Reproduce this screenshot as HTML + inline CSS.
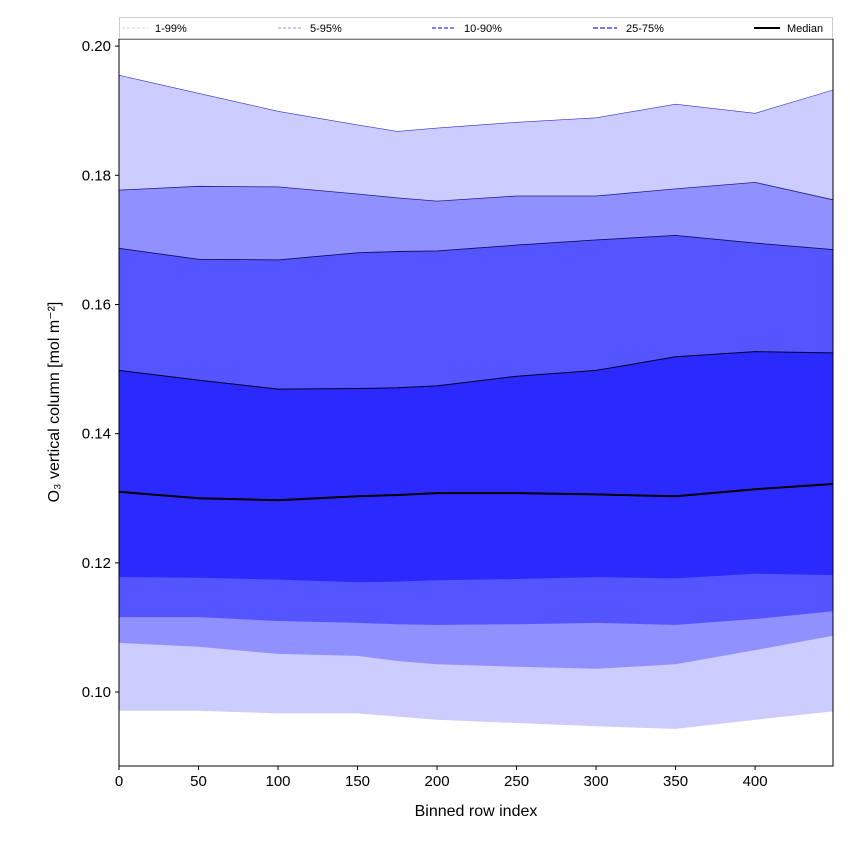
<!DOCTYPE html>
<html><head><meta charset="utf-8"><style>
body{margin:0;background:#fff;font-family:"Liberation Sans",sans-serif}
svg text{font-family:"Liberation Sans","DejaVu Sans",sans-serif}
</style></head><body>
<svg id="c" width="850" height="850" xmlns="http://www.w3.org/2000/svg">
<rect width="850" height="850" fill="#fff"/>
<g id="bands"></g>
<g id="axes"></g>
</svg>
<script>
const xIdx=[0,50,100,150,175,200,250,300,350,400,449];
const p99=[0.1955,0.1927,0.1899,0.1878,0.1868,0.1873,0.1882,0.1889,0.1910,0.1896,0.1932];
const p95=[0.1777,0.1783,0.1782,0.1771,0.1765,0.1760,0.1768,0.1768,0.1779,0.1789,0.1762];
const p90=[0.1687,0.1670,0.1669,0.1680,0.1682,0.1683,0.1692,0.1700,0.1707,0.1695,0.1685];
const p75=[0.1498,0.1483,0.1469,0.1470,0.1471,0.1474,0.1489,0.1498,0.1519,0.1527,0.1525];
const med=[0.1310,0.1300,0.1297,0.1303,0.1305,0.1308,0.1308,0.1306,0.1303,0.1314,0.1322];
const p25=[0.1178,0.1177,0.1174,0.1170,0.1171,0.1173,0.1175,0.1178,0.1176,0.1183,0.1181];
const p10=[0.1116,0.1116,0.1110,0.1107,0.1105,0.1104,0.1105,0.1107,0.1104,0.1113,0.1125];
const p5=[0.1076,0.1070,0.1059,0.1056,0.1048,0.1043,0.1039,0.1036,0.1043,0.1065,0.1087];
const p1=[0.0971,0.0971,0.0967,0.0967,0.0962,0.0957,0.0952,0.0947,0.0943,0.0957,0.0970];
const xTicks=[0,50,100,150,200,250,300,350,400];
const yTicks=[0.10,0.12,0.14,0.16,0.18,0.20];
const L=119,R=833,T=39,B=766,x0=0,x1=449,y0=0.08855,y1=0.2011;
const X=v=>L+(v-x0)/(x1-x0)*(R-L);
const Y=v=>B-(v-y0)/(y1-y0)*(B-T);
const NS="http://www.w3.org/2000/svg";
function mk(tag,at,parent){const e=document.createElementNS(NS,tag);for(const k in at)e.setAttribute(k,at[k]);parent.appendChild(e);return e;}
const bands=document.getElementById('bands'),axes=document.getElementById('axes');
function line(a){return a.map((v,i)=>X(xIdx[i]).toFixed(1)+','+Y(v).toFixed(1)).join(' ');}
function band(lo,hi,col,name){
  const pts=line(hi)+' '+lo.map((v,i)=>[X(xIdx[i]),Y(v)]).reverse().map(p=>p[0].toFixed(1)+','+p[1].toFixed(1)).join(' ');
  const p=mk('polygon',{points:pts,fill:col},bands);
  
  
}
band(p1,p99,'#ccccff','band-1-99');
band(p5,p95,'#9090ff','band-5-95');
band(p10,p90,'#5555ff','band-10-90');
band(p25,p75,'#2a2aff','band-25-75');
[[p99,'#3030d0',0.6],[p95,'#202090',0.8],[p90,'#101060',0.9],[p75,'#000030',1]].forEach((s,i)=>{
  const l=mk('polyline',{points:line(s[0]),fill:'none',stroke:s[1],'stroke-width':s[2]},bands);
  
  
});
const m=mk('polyline',{points:line(med),fill:'none',stroke:'#000','stroke-width':2},bands);


// axes frame
const fr=mk('rect',{x:L,y:T,width:R-L,height:B-T,fill:'none',stroke:'#000','stroke-width':1},axes);


xTicks.forEach(t=>{
  mk('line',{x1:X(t),x2:X(t),y1:B,y2:B+4,stroke:'#000'},axes);
  const tx=mk('text',{x:X(t),y:B+20,'text-anchor':'middle','font-size':15},axes);tx.textContent=t;
  
  
});
yTicks.forEach(t=>{
  mk('line',{x1:L-4,x2:L,y1:Y(t),y2:Y(t),stroke:'#000'},axes);
  const tx=mk('text',{x:L-8,y:Y(t)+5,'text-anchor':'end','font-size':15},axes);tx.textContent=t.toFixed(2);
  
  
});
</script>
<svg style="position:absolute;left:0;top:0" width="850" height="850" xmlns="http://www.w3.org/2000/svg">
<text x="476" y="816" text-anchor="middle" font-size="16">Binned row index</text>
<text transform="translate(59,402) rotate(-90)" text-anchor="middle" font-size="16">O₃ vertical column [mol m⁻²]</text>
<g>
<rect x="119.5" y="17.5" width="713" height="21" fill="#fff" stroke="#ccc"/>
<line x1="122" x2="148" y1="28" y2="28" stroke="#ccccff" stroke-dasharray="3,2"/>
<text x="155" y="32" font-size="11">1-99%</text>
<line x1="278" x2="302" y1="28" y2="28" stroke="#9090ff" stroke-dasharray="3,2"/>
<text x="310" y="32" font-size="11">5-95%</text>
<line x1="432" x2="456" y1="28" y2="28" stroke="#5555ff" stroke-width="1.5" stroke-dasharray="4,2"/>
<text x="464" y="32" font-size="11">10-90%</text>
<line x1="593" x2="617" y1="28" y2="28" stroke="#7777ff" stroke-width="2" stroke-dasharray="5,2"/>
<text x="626" y="32" font-size="11">25-75%</text>
<line x1="754" x2="780" y1="28" y2="28" stroke="#000" stroke-width="2"/>
<text x="787" y="32" font-size="11">Median</text>
</g>
</svg>
</body></html>
